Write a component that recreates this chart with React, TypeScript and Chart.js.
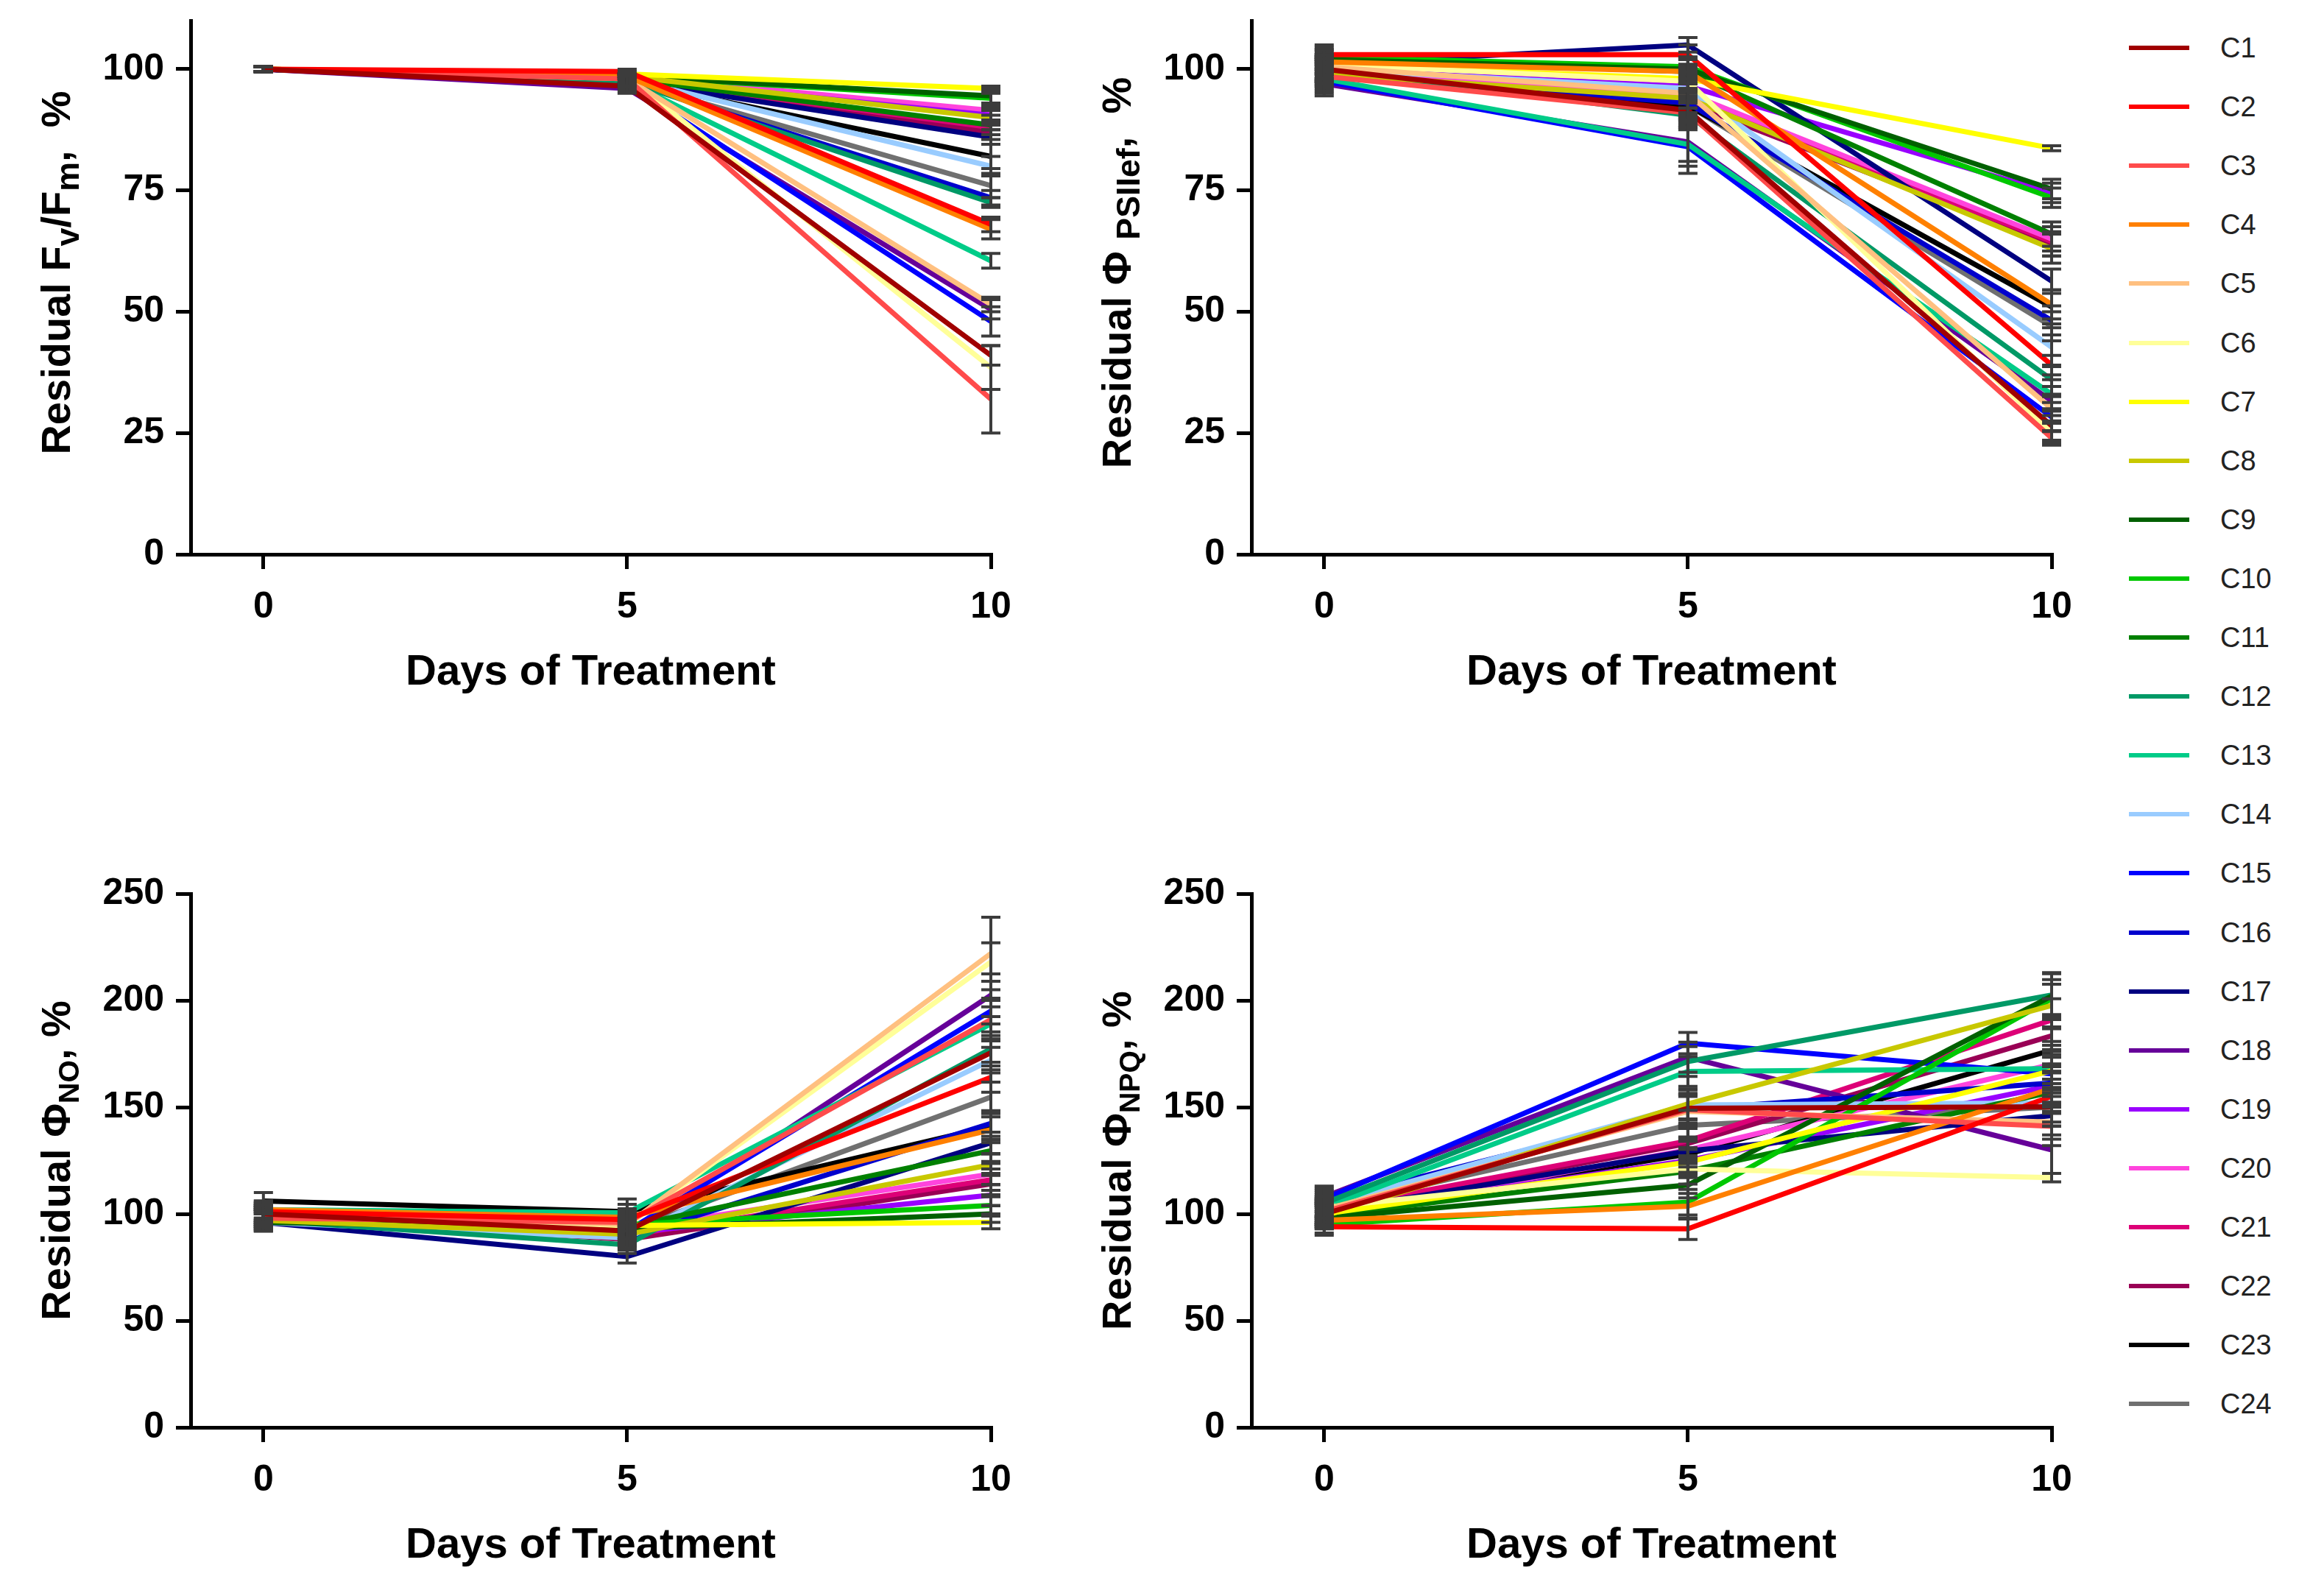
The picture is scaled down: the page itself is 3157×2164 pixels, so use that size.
import React, { useEffect, useRef } from "react";
import { Chart, registerables } from "chart.js";
Chart.register(...registerables);

const FONT = '"Liberation Sans", Arial, Helvetica, sans-serif';

const days = [0, 5, 10];
const seriesNames = ["C1","C2","C3","C4","C5","C6","C7","C8","C9","C10","C11","C12","C13","C14","C15","C16","C17","C18","C19","C20","C21","C22","C23","C24"];
const seriesColors = ["#A00000","#FF0000","#FF4B4B","#FF8000","#FFC080","#FFFF99","#FFFF00","#C8C800","#006000","#00C800","#008000","#009966","#00CC88","#99CCFF","#0000FF","#0000CD","#000080","#660099","#9900FF","#FF44DD","#DD0077","#990055","#000000","#707070"];

// Panel A: Residual Fv/Fm
const fvfmDay0 = [100,100,100,100,100,100,100,100,100,100,100,100,100,100,100,100,100,100,100,100,100,100,100,100];
const fvfmDay5 = [96.5,99.5,98,98.5,98,98.5,99,98.5,98.5,98.5,98,97.5,97.5,98,97,97.5,97.5,96,98,98.5,98,97.5,97.5,97.5];
const fvfmDay10 = [41,68,32,67,51.5,38.5,96,90,94.5,94,88.5,72.5,60.5,80,48,73.5,86,50.5,90.5,91.5,88,87,82,76];
const fvfmSd0 = [0.5,0.5,0.5,0.5,0.5,0.5,0.5,0.5,0.5,0.5,0.5,0.5,0.5,0.5,0.5,0.5,0.5,0.5,0.5,0.5,0.5,0.5,0.5,0.5];
const fvfmSd5 = [1,0.5,1,0.5,1,0.5,0.5,0.5,0.5,0.5,1,1,1,1,1,1,1,1,0.5,0.5,1,1,1,1];
const fvfmSd10 = [2,1.5,7,2,1.5,4.5,0.5,1.5,1.5,1,1,1,1.5,2,3,1.5,1.5,2,1.5,1,1.5,1.5,2.5,2.5];

// Panel B: Residual PhiPSIIef
const psiiDay0 = [100,103,98.5,101.5,100.5,101,101,99,102,102.5,102,100,98,100,97.5,99,101,97,100,99,99.5,100,99.5,100];
const psiiDay5 = [91.5,103,91,99.5,95,97.5,98,94,100,100.5,99.5,90.5,84.5,96,84,93,105,85,96.5,95,94,93,92.5,92.5];
const psiiDay10 = [26.5,39,24,51.5,30,25,83.7,63,75.3,73.5,66,36,33,42.7,28.3,48.2,56.3,31.6,74.5,65,64.5,64,51,47];
const psiiSd0 = [2.5,2,2.5,2,2,2,2,2.5,2,2,2,2.5,2.5,2.5,2.5,2.5,2,2.5,2,2,2,2,2.5,2];
const psiiSd5 = [3,2,3,2.5,3,2.5,2.5,3,2.5,2,2.5,3,6,3,4,3,1.5,4,3,3,3,3,3,3];
const psiiSd10 = [3,2,1.5,3,2.5,2,0.5,3,2,2,2.5,3,3,4,3,3,2.5,3,2,2.5,3,2.5,3.5,3];

// Panel C: Residual PhiNO
const noDay0 = [100,101,98,102,101,99,99,97,96,97,98,97,102,96,100,98,96,99,98,101,100,99,106,100];
const noDay5 = [92,97.3,96,98.4,95,94.6,94.6,90.4,93,95,94,85.5,100.5,88.7,92,89,80,90,91,93,90,88,101,92];
const noDay10 = [175.5,164,191,139.4,222,218,96,123,100,104,129.6,177.3,189,172,195,142.4,133.3,202.4,108.8,118.6,116,114,141,154.7];
const noSd0 = [4,4,4,4,4,4,4,4,4,4,4,4,4,4,4,4,4,4,4,4,4,4,4,4];
const noSd5 = [4,4,4,4,4,4,4,4,4,4,4,4,4,4,4,4,3,4,4,4,4,4,6,4];
const noSd10 = [8,7,9,6,17,9,3,5,4,4,5,8,8,6,6,6,5,10,5,5,5,5,6,7];

// Panel D: Residual PhiNPQ
const npqDay0 = [100,94,101,97,102,103,100,99,98,95,99,105,103,104,107,106,101,108,100,99,102,101,100,103];
const npqDay5 = [149.5,93,148.8,103.6,148,121,124.2,151.5,113.5,105.5,120,171.4,166.7,151,180,149,129.5,173.4,125,130,134.2,133,128,141.5];
const npqDay10 = [150.2,155.1,141,158.8,143,117,167,197.6,202,200.7,157,202.5,168,152,165.6,161.3,146,130,160,170,190.8,183.4,176.7,150];
const npqSd0 = [5,4,5,4,5,4,5,5,5,4,5,5,5,5,5,5,5,5,5,5,5,5,5,5];
const npqSd5 = [7,5,7,6,7,4,6,7,6,6,6,7,7,7,5,7,6,7,6,6,7,7,6,7];
const npqSd10 = [9,8,9,8,8,2,9,10,11,9,9,10,9,9,9,9,9,11,9,9,10,10,10,9];

const fvfmTicks = [0, 25, 50, 75, 100];
const phiTicks = [0, 50, 100, 150, 200, 250];
const dayTicks = [0, 5, 10];

type Seg = { t: string; sub?: boolean };

const errorBarPlugin = {
  id: "errorBars",
  afterDatasetsDraw(chart: any) {
    const ctx = chart.ctx;
    const xs = chart.scales.x;
    const ys = chart.scales.y;
    ctx.save();
    ctx.strokeStyle = "#3c3c3c";
    ctx.lineWidth = 4;
    ctx.lineCap = "butt";
    chart.data.datasets.forEach((ds: any) => {
      ds.data.forEach((p: any, j: number) => {
        const sd = ds.sd[j];
        const x = xs.getPixelForValue(p.x);
        const y1 = ys.getPixelForValue(p.y + sd);
        const y2 = ys.getPixelForValue(p.y - sd);
        ctx.beginPath();
        ctx.moveTo(x, y1);
        ctx.lineTo(x, y2);
        ctx.moveTo(x - 13, y1);
        ctx.lineTo(x + 13, y1);
        ctx.moveTo(x - 13, y2);
        ctx.lineTo(x + 13, y2);
        ctx.stroke();
      });
    });
    ctx.restore();
  },
};

const titlePlugin = {
  id: "panelTitles",
  afterDraw(chart: any, _args: any, opts: any) {
    const ctx = chart.ctx;
    const area = chart.chartArea;
    ctx.save();
    ctx.fillStyle = "#000";
    ctx.font = `bold ${opts.xSize}px ${FONT}`;
    ctx.textAlign = "center";
    ctx.textBaseline = "middle";
    ctx.fillText(opts.xText, (area.left + area.right) / 2, area.bottom + opts.xOffset);

    const big = opts.ySize;
    const small = big * opts.subScale;
    const segs: Seg[] = opts.ySegments;
    let total = 0;
    const widths: number[] = [];
    segs.forEach((s) => {
      ctx.font = `bold ${s.sub ? small : big}px ${FONT}`;
      const w = ctx.measureText(s.t).width;
      widths.push(w);
      total += w;
    });
    ctx.translate(area.left - opts.yOffset, (area.top + area.bottom) / 2 - opts.yShift);
    ctx.rotate(-Math.PI / 2);
    ctx.textAlign = "left";
    ctx.textBaseline = "alphabetic";
    let x = -total / 2;
    const base = big * 0.36;
    segs.forEach((s, i) => {
      ctx.font = `bold ${s.sub ? small : big}px ${FONT}`;
      ctx.fillText(s.t, x, base + (s.sub ? big * 0.22 : 0));
      x += widths[i];
    });
    ctx.restore();
  },
};

type PanelDef = {
  left: number;
  top: number;
  width: number;
  height: number;
  padTop: number;
  xAxisH: number;
  yMax: number;
  yTicks: number[];
  day0: number[];
  day5: number[];
  day10: number[];
  sd0: number[];
  sd5: number[];
  sd10: number[];
  ySegments: Seg[];
  subScale: number;
  yShift: number;
};

const panels: PanelDef[] = [
  { left: 0, top: 0, width: 1440, height: 1000, padTop: 28, xAxisH: 247, yMax: 110, yTicks: fvfmTicks,
    day0: fvfmDay0, day5: fvfmDay5, day10: fvfmDay10, sd0: fvfmSd0, sd5: fvfmSd5, sd10: fvfmSd10,
    ySegments: [{ t: "Residual F" }, { t: "v", sub: true }, { t: "/F" }, { t: "m", sub: true }, { t: ",  %" }],
    subScale: 0.8, yShift: 20 },
  { left: 1441, top: 0, width: 1440, height: 1000, padTop: 28, xAxisH: 247, yMax: 110, yTicks: fvfmTicks,
    day0: psiiDay0, day5: psiiDay5, day10: psiiDay10, sd0: psiiSd0, sd5: psiiSd5, sd10: psiiSd10,
    ySegments: [{ t: "Residual Φ " }, { t: "PSIIef", sub: true }, { t: ",  %" }],
    subScale: 0.8, yShift: 20 },
  { left: 0, top: 1100, width: 1440, height: 1064, padTop: 114, xAxisH: 225, yMax: 250, yTicks: phiTicks,
    day0: noDay0, day5: noDay5, day10: noDay10, sd0: noSd0, sd5: noSd5, sd10: noSd10,
    ySegments: [{ t: "Residual Φ" }, { t: "NO", sub: true }, { t: ", %" }],
    subScale: 0.7, yShift: 0 },
  { left: 1441, top: 1100, width: 1440, height: 1064, padTop: 114, xAxisH: 225, yMax: 250, yTicks: phiTicks,
    day0: npqDay0, day5: npqDay5, day10: npqDay10, sd0: npqSd0, sd5: npqSd5, sd10: npqSd10,
    ySegments: [{ t: "Residual Φ" }, { t: "NPQ", sub: true }, { t: ", %" }],
    subScale: 0.7, yShift: 0 },
];

function Panel({ def }: { def: PanelDef }) {
  const ref = useRef<HTMLCanvasElement | null>(null);
  useEffect(() => {
    if (!ref.current) return;
    const datasets = seriesNames.map((name, i) => {
      const ys = [def.day0[i], def.day5[i], def.day10[i]];
      return {
        label: name,
        data: days.map((d, j) => ({ x: d, y: ys[j] })),
        sd: [def.sd0[i], def.sd5[i], def.sd10[i]],
        borderColor: seriesColors[i],
        backgroundColor: seriesColors[i],
        borderWidth: 7,
        pointRadius: 0,
        tension: 0,
        fill: false,
        clip: false as any,
      };
    });
    const tickFont = { family: FONT, size: 50, weight: "bold" as any };
    const chart = new Chart(ref.current, {
      type: "line",
      data: { datasets: datasets as any },
      plugins: [errorBarPlugin, titlePlugin],
      options: {
        animation: false,
        responsive: false,
        devicePixelRatio: 1,
        layout: { padding: { top: def.padTop, right: def.width - 1346, left: 0, bottom: 0 } },
        plugins: {
          legend: { display: false },
          tooltip: { enabled: false },
          panelTitles: {
            xText: "Days of Treatment",
            xSize: 58,
            xOffset: 161,
            ySegments: def.ySegments,
            ySize: 56,
            yOffset: 184,
            subScale: def.subScale,
            yShift: def.yShift,
          },
        } as any,
        scales: {
          x: {
            type: "linear",
            min: -1,
            max: 10,
            afterBuildTicks: (s: any) => {
              s.ticks = dayTicks.map((v) => ({ value: v }));
            },
            afterFit: (s: any) => {
              s.height = def.xAxisH;
              s.paddingLeft = 0;
              s.paddingRight = 0;
            },
            grid: { display: true, drawOnChartArea: false, drawTicks: true, tickLength: 20, color: "#000", lineWidth: 5 },
            border: { display: true, color: "#000", width: 5 },
            ticks: { color: "#000", font: tickFont, padding: 22, maxRotation: 0, autoSkip: false, callback: (v: any) => String(v) },
          },
          y: {
            type: "linear",
            min: 0,
            max: def.yMax,
            afterBuildTicks: (s: any) => {
              s.ticks = def.yTicks.map((v) => ({ value: v }));
            },
            afterFit: (s: any) => {
              s.width = 259;
              s.paddingTop = 0;
              s.paddingBottom = 0;
            },
            grid: { display: true, drawOnChartArea: false, drawTicks: true, tickLength: 20, color: "#000", lineWidth: 5 },
            border: { display: true, color: "#000", width: 5 },
            ticks: { color: "#000", font: tickFont, padding: 16, autoSkip: false, callback: (v: any) => String(v) },
          },
        },
      },
    });
    return () => chart.destroy();
  }, [def]);
  return (
    <canvas
      ref={ref}
      width={def.width}
      height={def.height}
      style={{ position: "absolute", left: def.left, top: def.top, width: def.width, height: def.height }}
    />
  );
}

export default function App() {
  return (
    <div style={{ position: "absolute", left: 0, top: 0, width: 3157, height: 2164, background: "#fff", overflow: "hidden" }}>
      {panels.map((p, i) => (
        <Panel key={i} def={p} />
      ))}
      {seriesNames.map((n, i) => (
        <div
          key={n}
          style={{ position: "absolute", left: 2892, top: 65 + i * 80.1 - 25, height: 50, display: "flex", alignItems: "center" }}
        >
          <div style={{ width: 82, height: 6, background: seriesColors[i] }} />
          <span style={{ marginLeft: 42, fontFamily: FONT, fontSize: 38, color: "#222", lineHeight: "50px" }}>{n}</span>
        </div>
      ))}
    </div>
  );
}
